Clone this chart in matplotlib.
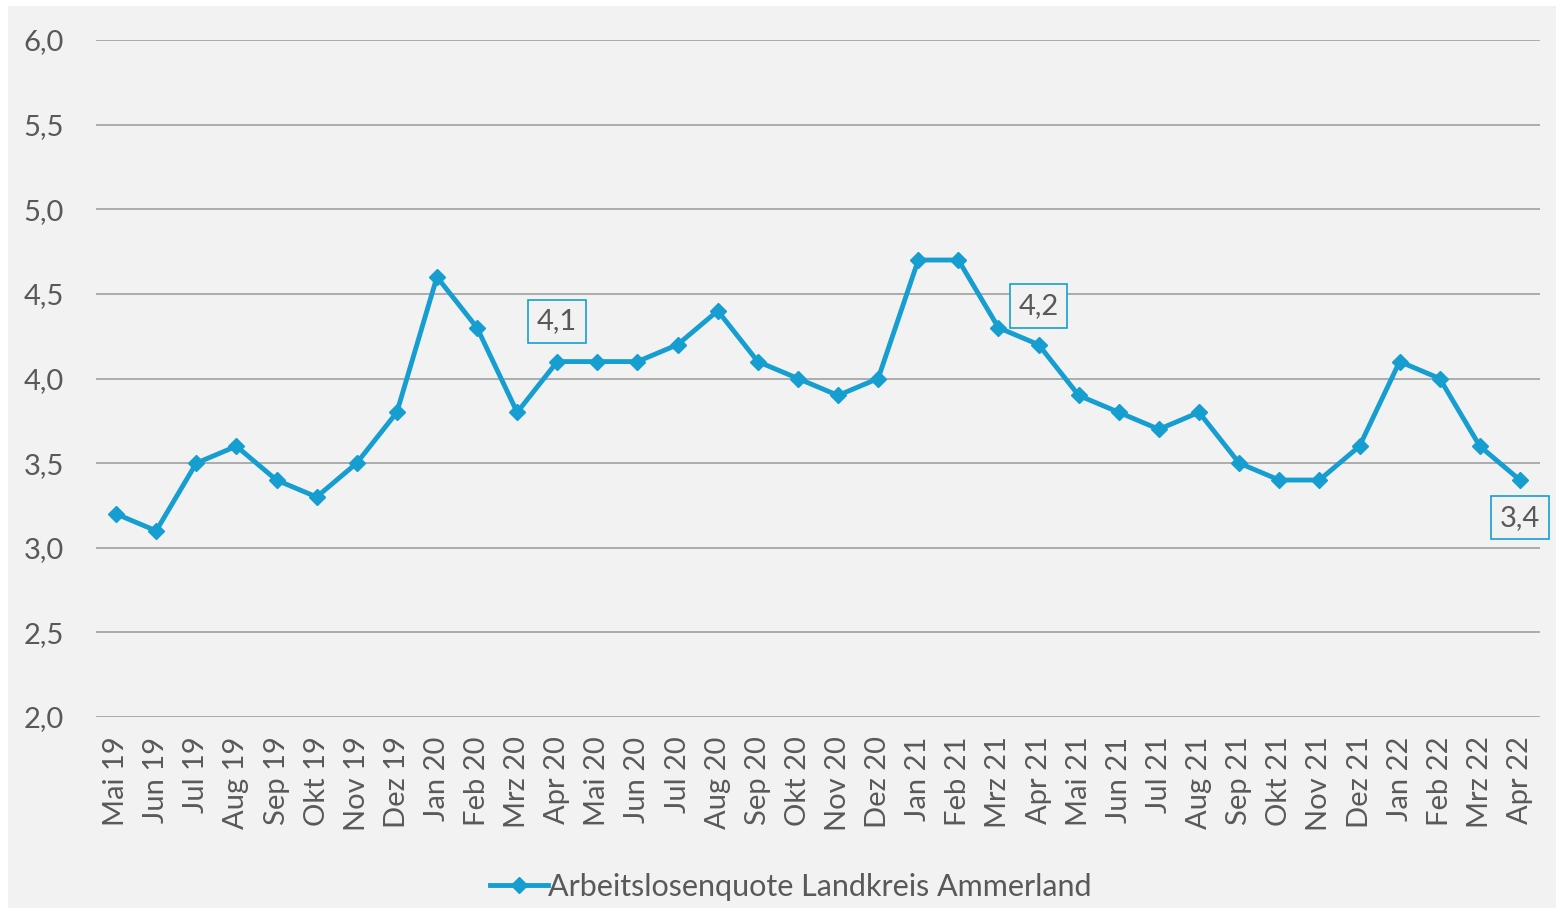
import matplotlib
matplotlib.use('Agg')
import matplotlib.pyplot as plt
from matplotlib.patches import Rectangle

plt.rcParams['font.family'] = ['Lato', 'DejaVu Sans']

months = ['Mai 19', 'Jun 19', 'Jul 19', 'Aug 19', 'Sep 19', 'Okt 19', 'Nov 19', 'Dez 19',
          'Jan 20', 'Feb 20', 'Mrz 20', 'Apr 20', 'Mai 20', 'Jun 20', 'Jul 20', 'Aug 20',
          'Sep 20', 'Okt 20', 'Nov 20', 'Dez 20', 'Jan 21', 'Feb 21', 'Mrz 21', 'Apr 21',
          'Mai 21', 'Jun 21', 'Jul 21', 'Aug 21', 'Sep 21', 'Okt 21', 'Nov 21', 'Dez 21',
          'Jan 22', 'Feb 22', 'Mrz 22', 'Apr 22']
quote = [3.2, 3.1, 3.5, 3.6, 3.4, 3.3, 3.5, 3.8,
         4.6, 4.3, 3.8, 4.1, 4.1, 4.1, 4.2, 4.4,
         4.1, 4.0, 3.9, 4.0, 4.7, 4.7, 4.3, 4.2,
         3.9, 3.8, 3.7, 3.8, 3.5, 3.4, 3.4, 3.6,
         4.1, 4.0, 3.6, 3.4]
label_months = ['Apr 20', 'Apr 21', 'Apr 22']

blue = '#169ed0'
grey_bg = '#f2f2f2'
text_col = '#595959'

fig = plt.figure(figsize=(15.62, 9.14), dpi=100)
fig.patch.set_facecolor('white')
fig.patches.append(Rectangle((8 / 1562, 6 / 914), 1548 / 1562, 902 / 914,
                             transform=fig.transFigure, facecolor=grey_bg,
                             edgecolor='none', zorder=-10))

ax = fig.add_axes([96 / 1562, 1 - 717 / 914, (1540 - 96) / 1562, (717 - 40) / 914])
ax.set_facecolor('none')

x = list(range(len(months)))
ax.plot(x, quote, color=blue, lw=3.5, marker='D', markersize=8,
        label='Arbeitslosenquote Landkreis Ammerland', zorder=3)

ax.set_xlim(-0.5, len(months) - 0.5)
ax.set_ylim(2.0, 6.0)
ax.set_yticks([2.0, 2.5, 3.0, 3.5, 4.0, 4.5, 5.0, 5.5, 6.0])
ax.set_yticklabels([('%.1f' % v).replace('.', ',') for v in ax.get_yticks()])
ax.set_xticks(x)
ax.set_xticklabels(months, rotation=90)
ax.tick_params(axis='both', length=0, labelsize=21, colors=text_col)
ax.tick_params(axis='y', pad=23)
ax.tick_params(axis='x', pad=14)
ax.grid(axis='y', color='#a6a6a6', lw=1.3)
for s in ax.spines.values():
    s.set_visible(False)

for m in label_months:
    i = months.index(m)
    txt = ('%.1f' % quote[i]).replace('.', ',')
    if m == 'Apr 22':
        off = (0, -27)
    elif m == 'Apr 21':
        off = (0, 28)
    else:
        off = (0, 29)
    ax.annotate(txt, (i, quote[i]), xytext=off, textcoords='offset points',
                ha='center', va='center', fontsize=21, color=text_col,
                bbox=dict(boxstyle='square,pad=0.3', fc=grey_bg, ec=blue, lw=1.2))

leg = fig.legend(loc='center', bbox_to_anchor=(0.5 + 10 / 1562, 1 - 887 / 914), frameon=False,
                 fontsize=22, handlelength=1.9, handletextpad=0.0)
for t in leg.get_texts():
    t.set_color(text_col)

fig.savefig('out.png', dpi=100, facecolor=fig.get_facecolor())
